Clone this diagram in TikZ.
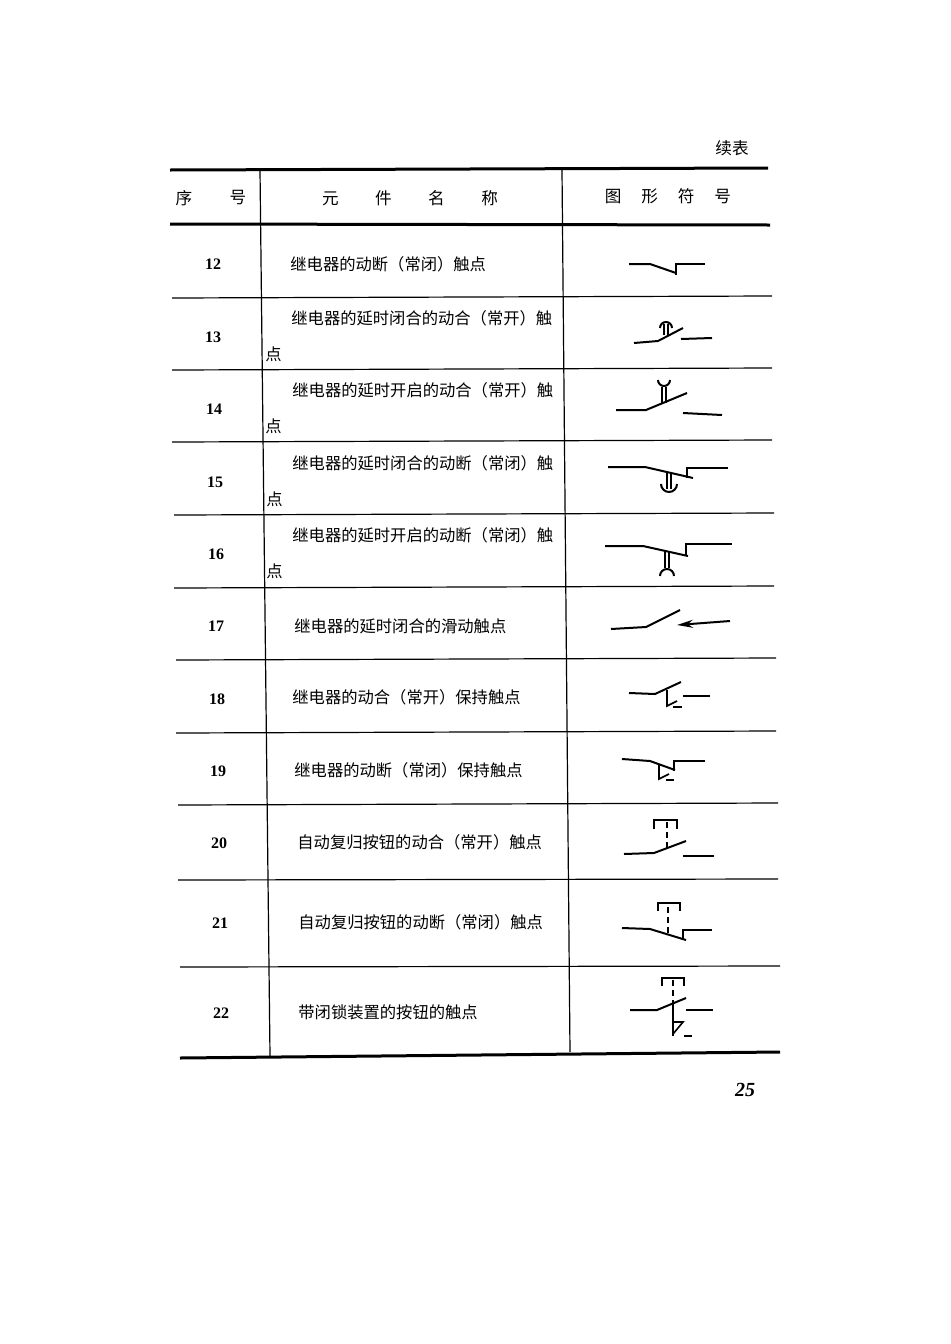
\documentclass[tikz,border=0pt]{standalone}
\usepackage{fontspec}
\setmainfont{Liberation Serif}
\newfontfamily\cjk{Noto Sans CJK SC}
\usetikzlibrary{arrows.meta}
\begin{document}
\begin{tikzpicture}[x=0.5pt,y=-0.5pt,
 thick rule/.style={line width=1.5pt},
 thin rule/.style={line width=0.6pt},
 sym/.style={line width=1pt},
 txt/.style={font=\cjk\fontsize{8.15}{10}\selectfont,anchor=west,inner sep=0pt},
 num/.style={font=\bfseries\fontsize{8}{10}\selectfont,inner sep=0pt},
 hdr/.style={font=\cjk\fontsize{8.3}{10}\selectfont,inner sep=0pt}]
\useasboundingbox (0,0) rectangle (950,1344);
\node[hdr] (cont) at (732,148) {续表};
\node[font=\bfseries\itshape\fontsize{10}{12}\selectfont] (page) at (745,1090) {25};
% rules
\draw[thick rule] (170,170) -- (768,168);
\draw[thick rule] (170,224) -- (770,225);
\draw[thin rule] (172,298) -- (772,296);
\draw[thin rule] (172,370) -- (772,368);
\draw[thin rule] (172,442) -- (772,440);
\draw[thin rule] (174,515) -- (774,513);
\draw[thin rule] (174,588) -- (774,586);
\draw[thin rule] (176,660) -- (776,658);
\draw[thin rule] (176,733) -- (776,731);
\draw[thin rule] (178,805) -- (778,803);
\draw[thin rule] (178,880) -- (778,879);
\draw[thin rule] (180,967) -- (780,966);
\draw[thick rule] (180,1058) -- (780,1052);
\draw[thin rule] (260,170) -- (270,1056);
\draw[thin rule] (562,170) -- (570,1052);
% header
\node[hdr] (h1) at (184,198) {序};
\node[hdr] (h2) at (238,198) {号};
\node[hdr] (h3) at (410,198) {元\hspace{2.2em}件\hspace{2.2em}名\hspace{2.2em}称};
\node[hdr] (h4) at (668,196) {图\hspace{1.2em}形\hspace{1.2em}符\hspace{1.2em}号};
% numbers
\foreach \n/\x/\y in {12/213/264,13/213/337,14/214/409,15/215/482,16/216/554,17/216/626,18/217/699,19/218/771,20/219/843,21/220/923,22/221/1013}
  \node[num] (n\n) at (\x,\y) {\n};
% names
\node[txt] (t12) at (290,264) {继电器的动断（常闭）触点};
\node[txt] (t13) at (291,318) {继电器的延时闭合的动合（常开）触};
\node[txt] (t13b) at (265,354) {点};
\node[txt] (t14) at (292,390) {继电器的延时开启的动合（常开）触};
\node[txt] (t14b) at (265,426) {点};
\node[txt] (t15) at (292,463) {继电器的延时闭合的动断（常闭）触};
\node[txt] (t15b) at (266,499) {点};
\node[txt] (t16) at (292,535) {继电器的延时开启的动断（常闭）触};
\node[txt] (t16b) at (266,571) {点};
\node[txt] (t17) at (294,626) {继电器的延时闭合的滑动触点};
\node[txt] (t18) at (292,697) {继电器的动合（常开）保持触点};
\node[txt] (t19) at (294,770) {继电器的动断（常闭）保持触点};
\node[txt] (t20) at (297,842) {自动复归按钮的动合（常开）触点};
\node[txt] (t21) at (298,922) {自动复归按钮的动断（常闭）触点};
\node[txt] (t22) at (298,1012) {带闭锁装置的按钮的触点};
% symbols
% 12
\draw[sym] (629,264) -- (650,264) -- (676,273); \draw[sym] (676,275) -- (676,264) -- (705,264);
% 13
\draw[sym] (634,343) -- (658,341) -- (683,328); \draw[sym] (681,339) -- (712,338);
\draw[sym] (664,335) -- (664,324) (668,335) -- (668,324);
\draw[sym] (660,328) arc (180:360:6);
% 14
\draw[sym] (616,410) -- (646,410) -- (687,393); \draw[sym] (683,413) -- (722,415);
\draw[sym] (662,403) -- (662,387) (666,403) -- (666,387);
\draw[sym] (658,380) arc (180:0:6);
% 15
\draw[sym] (608,467) -- (645,467) -- (693,478); \draw[sym] (687,478) -- (687,468) -- (728,468);
\draw[sym] (667,472) -- (667,489) (671,472) -- (671,489);
\draw[sym] (661,484) arc (180:0:8);
% 16
\draw[sym] (605,546) -- (643,546) -- (688,556); \draw[sym] (686,556) -- (686,544) -- (732,544);
\draw[sym] (665,551) -- (665,568) (669,551) -- (669,568);
\draw[sym] (660,576) arc (180:360:7);
% 17
\draw[sym] (611,629) -- (646,627) -- (680,610);
\draw[sym,{Stealth[length=8pt,width=4pt]}-] (677,625) -- (730,621);
% 18
\draw[sym] (629,693) -- (655,694) -- (681,682); \draw[sym] (683,696) -- (710,696);
\draw[line width=0.8pt] (667,690) -- (667,706) -- (677,701); \draw[line width=0.8pt] (673,707) -- (682,707);
% 19
\draw[sym] (622,759) -- (650,761) -- (675,770); \draw[sym] (674,771) -- (674,761) -- (705,761);
\draw[line width=0.8pt] (659,764) -- (659,779) -- (669,774); \draw[line width=0.8pt] (666,780) -- (674,780);
% 20
\draw[sym] (624,854) -- (654,853) -- (686,841); \draw[sym] (683,856) -- (714,856);
\draw[sym,dashed,dash pattern=on 3pt off 2pt] (667,822) -- (667,848);
\draw[sym] (654,829) -- (654,820) -- (677,820) -- (677,829);
% 21
\draw[sym] (622,928) -- (650,929) -- (686,940); \draw[sym] (683,939) -- (683,930) -- (712,930);
\draw[sym,dashed,dash pattern=on 3pt off 2pt] (668,907) -- (668,934);
\draw[sym] (658,911) -- (658,903) -- (680,903) -- (680,911);
% 22
\draw[sym] (630,1010) -- (657,1010) -- (686,998); \draw[sym] (686,1010) -- (713,1010);
\draw[sym,dashed,dash pattern=on 3pt off 2pt] (673,980) -- (673,1000);
\draw[sym] (673,1000) -- (673,1036);
\draw[sym] (662,986) -- (662,978) -- (684,978) -- (684,986);
\draw[line width=0.8pt] (673,1022) -- (683,1022) -- (673,1034); \draw[line width=0.8pt] (684,1036) -- (692,1036);
\end{tikzpicture}
\end{document}
